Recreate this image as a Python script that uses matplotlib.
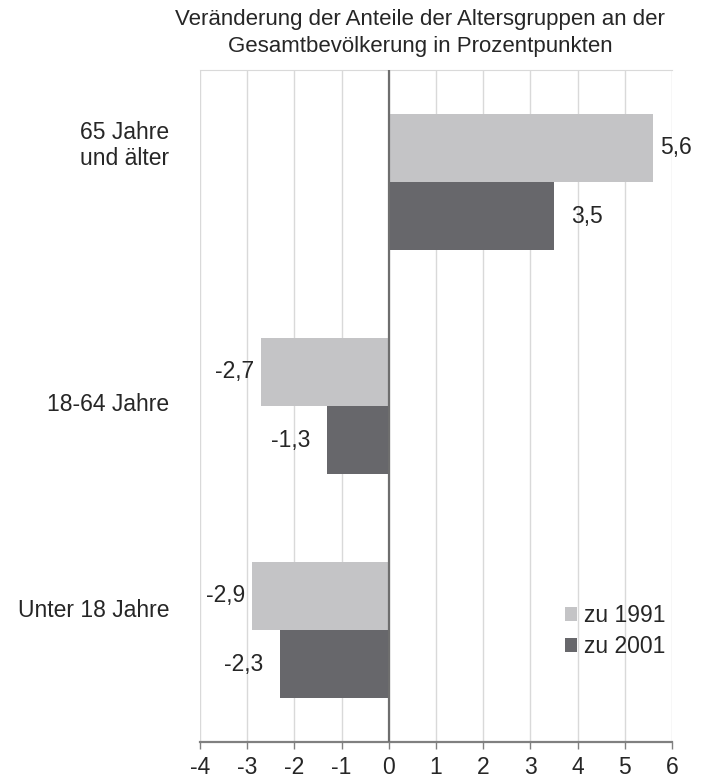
import matplotlib.pyplot as plt
import numpy as np
from matplotlib.transforms import ScaledTranslation

plt.rcParams['font.family'] = ['Liberation Sans', 'DejaVu Sans']

# data
categories = ['Unter 18 Jahre', '18-64 Jahre', '65 Jahre\nund älter']
zu_1991 = [-2.9, -2.7, 5.6]
zu_2001 = [-2.3, -1.3, 3.5]
series_names = ['zu 1991', 'zu 2001']
xticks = [-4, -3, -2, -1, 0, 1, 2, 3, 4, 5, 6]

col_light = '#c4c4c6'
col_dark = '#67676b'
txt = '#262626'
fs = 16.5

fig = plt.figure(figsize=(7.08, 7.78), dpi=100)
ax = fig.add_axes([200/708, 1 - 742/778, 472/708, 672/778])

y = np.arange(len(categories))
h = 0.304
b1 = ax.barh(y + h/2, zu_1991, height=h, color=col_light, label=series_names[0], zorder=2)
b2 = ax.barh(y - h/2, zu_2001, height=h, color=col_dark, label=series_names[1], zorder=2)

def fmt(v):
    return ('%.1f' % v).replace('.', ',')

# label offsets (points) differ per series, as in the original
for bars, vals, off in [(b1, zu_1991, 5), (b2, zu_2001, 12)]:
    for bar, v in zip(bars, vals):
        cy = bar.get_y() + bar.get_height() / 2
        if v >= 0:
            ax.annotate(fmt(v), (v, cy), xytext=(off, 0), textcoords='offset points',
                        ha='left', va='center', fontsize=fs, color=txt)
        else:
            ax.annotate(fmt(v), (v, cy), xytext=(-off, 0), textcoords='offset points',
                        ha='right', va='center', fontsize=fs, color=txt)

ax.set_xlim(-4, 6)
ax.set_ylim(-0.5, 2.5)
ax.set_xticks(xticks)
ax.set_xticklabels([str(t) for t in xticks], fontsize=fs, color=txt)
ax.set_yticks(y)
ax.set_yticklabels(categories, fontsize=fs, color=txt, ha='right', multialignment='right')
ax.tick_params(axis='y', length=0, pad=22)
ax.tick_params(axis='x', direction='out', length=5, width=1, color='#808080', pad=5)

# the category labels sit a bit above the group centres in the original
for lab, dy in zip(ax.get_yticklabels(), [16, 3, 29.5]):
    lab.set_linespacing(1.2)
    lab.set_transform(lab.get_transform() + ScaledTranslation(0, dy/72, fig.dpi_scale_trans))

ax.grid(axis='x', color='#d9d9d9', linewidth=1, zorder=0)
ax.axvline(0, color='#6e6e6e', linewidth=1.6, zorder=3)
for s in ['left', 'right']:
    ax.spines[s].set_visible(False)
ax.spines['top'].set_color('#d9d9d9')
ax.spines['bottom'].set_color('#808080')
ax.spines['bottom'].set_linewidth(1.6)

fig.text(420/708, 1 - 9/778, 'Veränderung der Anteile der Altersgruppen an der\nGesamtbevölkerung in Prozentpunkten',
         ha='center', va='top', fontsize=16, color=txt, linespacing=1.4)

ax.legend(loc='center left', bbox_to_anchor=(0.773, 0.165), frameon=False, fontsize=fs,
          borderpad=0, borderaxespad=0,
          handlelength=0.55, handleheight=0.55, handletextpad=0.3, labelspacing=0.35,
          labelcolor=txt)

fig.savefig('out.png', dpi=100)
